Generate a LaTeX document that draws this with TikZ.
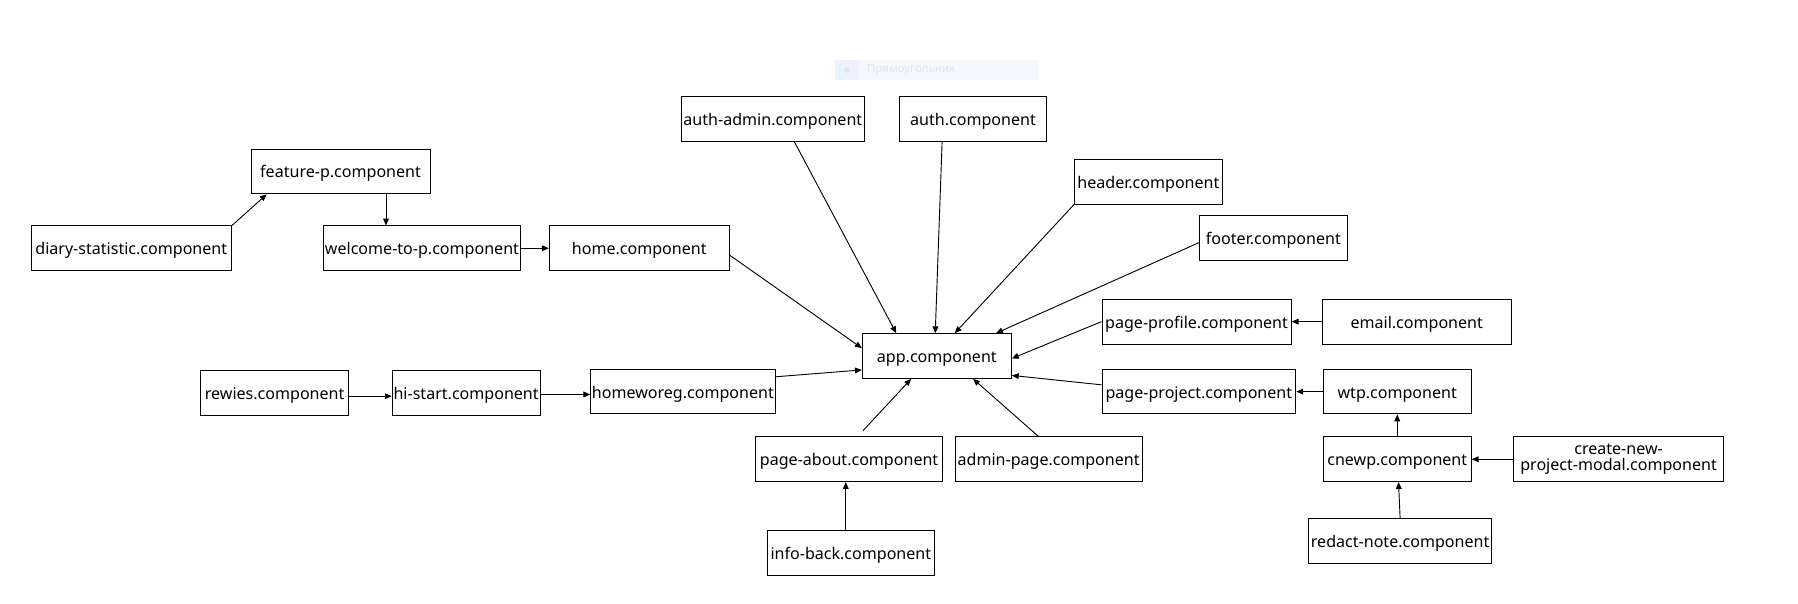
\documentclass[tikz,border=0pt]{standalone}
\usepackage{fontspec}
\setmainfont{Noto Sans}
\usetikzlibrary{calc,arrows.meta}
\definecolor{tipbg}{HTML}{F5F9FF}
\definecolor{tipbox}{HTML}{EBF3FF}
\definecolor{tiptext}{HTML}{E2E5EA}
\begin{document}
\begin{tikzpicture}[x=1pt,y=-1pt,
  comp/.style={draw=black, fill=white, line width=0.8pt, minimum height=39pt, inner sep=1pt,
    font=\fontsize{14}{15}\selectfont, text height=1.42em, text depth=0.3em},
  comp2/.style={draw=black, fill=white, line width=0.8pt, minimum height=39pt, inner sep=1pt,
    font=\fontsize{14}{14.5}\selectfont, align=center},
  conn/.style={line width=0.8pt, -{Triangle[length=6pt,width=5pt]}}]
\useasboundingbox (0,0) rectangle (1568,526);

% faint tooltip
\node[fill=tipbg, minimum width=178pt, minimum height=18pt, inner sep=0pt] (tip) at (817,61) {};
\node[fill=tipbox, minimum width=21pt, minimum height=18pt, inner sep=0pt, anchor=west] (tipicon) at (tip.west) {};
\fill[tiptext] (tipicon.center) circle (2.5pt);
\node[anchor=west, text=tiptext, font=\fontsize{10}{12}\selectfont, inner sep=0pt] (tiplabel) at (756,61) {Прямоугольник};

% nodes
\node[comp, minimum width=156pt] (feature) at (297,149.5) {feature-p.component};
\node[comp, minimum width=175pt] (diary) at (114.5,216.5) {diary-statistic.component};
\node[comp, minimum width=172pt] (welcome) at (368,216.5) {welcome-to-p.component};
\node[comp, minimum width=157pt] (home) at (557.5,216.5) {home.component};
\node[comp, minimum width=160pt] (authadmin) at (674,103.5) {auth-admin.component};
\node[comp, minimum width=129pt] (auth) at (848.5,103.5) {auth.component};
\node[comp, minimum width=129pt] (header) at (1001.5,158.5) {header.component};
\node[comp, minimum width=129pt] (footer) at (1110.5,207.5) {footer.component};
\node[comp, minimum width=130pt] (app) at (817,310.5) {app.component};
\node[comp, minimum width=165pt] (profile) at (1043.5,280.5) {page-profile.component};
\node[comp, minimum width=165pt] (email) at (1235.5,280.5) {email.component};
\node[comp, minimum width=169pt] (project) at (1045.5,341.5) {page-project.component};
\node[comp, minimum width=129pt] (wtp) at (1218.5,341.5) {wtp.component};
\node[comp, minimum width=129pt] (cnewp) at (1218.5,400.5) {cnewp.component};
\node[comp2, minimum width=183pt] (create) at (1411.5,400.5) {create-new-\\project-modal.component};
\node[comp, minimum width=160pt] (redact) at (1221,471.5) {redact-note.component};
\node[comp, minimum width=129pt] (rewies) at (239.5,342.5) {rewies.component};
\node[comp, minimum width=129pt] (histart) at (406.5,342.5) {hi-start.component};
\node[comp, minimum width=159pt] (homeworeg) at (595.5,341.5) {homeworeg.component};
\node[comp, minimum width=163pt] (about) at (740.5,400.5) {page-about.component};
\node[comp, minimum width=163pt] (adminpage) at (914.5,400.5) {admin-page.component};
\node[comp, minimum width=146pt] (infoback) at (742,482.5) {info-back.component};

% connectors
\draw[conn] (diary.north east) -- ($(feature.south west)+(14,0)$);
\draw[conn] ($(feature.south west)+(118,0)$) -- ($(welcome.north west)+(55,0)$);
\draw[conn] (welcome.east) -- (home.west);
\draw[conn] ($(home.north east)+(0,26)$) -- ($(app.north west)+(0,13)$);
\draw[conn] ($(authadmin.south west)+(99,0)$) -- ($(app.north west)+(30,0)$);
\draw[conn] ($(auth.south west)+(38,0)$) -- ($(app.north west)+(64,0)$);
\draw[conn] (header.south west) -- ($(app.north west)+(81,0)$);
\draw[conn] ($(footer.north west)+(0,24)$) -- ($(app.north west)+(117,0)$);
\draw[conn] (profile.west) -- ($(app.north east)+(0,22)$);
\draw[conn] (email.west) -- (profile.east);
\draw[conn] ($(project.north west)+(0,14)$) -- ($(app.south east)+(0,-3)$);
\draw[conn] (wtp.west) -- (project.east);
\draw[conn] (cnewp.north) -- (wtp.south);
\draw[conn] (create.west) -- (cnewp.east);
\draw[conn] (redact.north) -- ($(cnewp.south west)+(66,0)$);
\draw[conn] ($(rewies.east)+(0,3)$) -- ($(histart.west)+(0,3)$);
\draw[conn] ($(histart.east)+(0,1.5)$) -- ($(homeworeg.west)+(0,2.5)$);
\draw[conn] ($(homeworeg.north east)+(0,7)$) -- ($(app.north west)+(0,32)$);
\draw[conn] ($(about.north west)+(94,-5)$) -- ($(app.south west)+(43,0)$);
\draw[conn] ($(adminpage.north west)+(73,0)$) -- ($(app.south west)+(97,0)$);
\draw[conn] ($(infoback.north west)+(69,0)$) -- ($(about.south west)+(79,0)$);
\end{tikzpicture}
\end{document}
